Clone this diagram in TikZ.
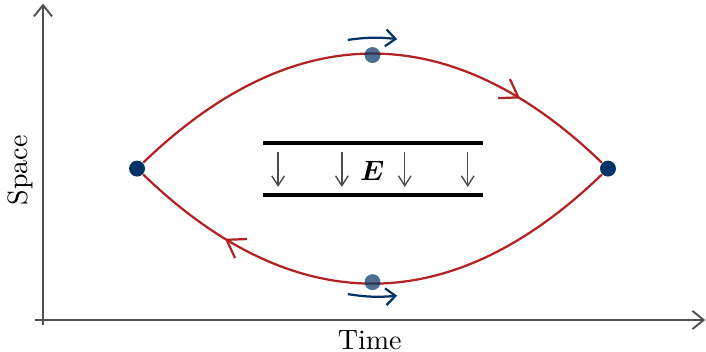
\documentclass[tikz,border=0pt]{standalone}
\usepackage{bm}
\usetikzlibrary{arrows.meta,decorations.markings}
\definecolor{pathred}{RGB}{178,34,34}
\definecolor{dotblue}{RGB}{0,51,102}
\definecolor{axisgray}{RGB}{80,80,80}
\begin{document}
\begin{tikzpicture}[
    axis/.style={axisgray,line width=.7pt,-{Straight Barb[length=4pt,width=6.5pt]}},
    worldline/.style={pathred,thick,postaction={decorate},
        decoration={markings,mark=at position .8 with
        {\arrow{Straight Barb[length=6pt,width=8pt]}}}},
    event/.style={circle,fill=dotblue,inner sep=0pt,minimum size=.2cm},
    midpt/.style={event,fill opacity=.7},
    spin/.style={dotblue,thick,-{Straight Barb[length=3.5pt,width=6pt]}},
    plate/.style={black,very thick},
    field/.style={black!70,line width=.5pt,-{Straight Barb[length=3.5pt,width=4.5pt]}}]
    \useasboundingbox (-.54,-.39) rectangle (8.32,4.016);
    \draw[axis] (0,-.06) -- (0,3.97);
    \draw[axis] (-.1,0) -- (8.31,0);
    \node[rotate=90] (space) at (-.29,1.88) {Space};
    \node (time) at (4.1,-.25) {Time};
    \node[event] (l) at (1.18,1.9) {};
    \node[event] (r) at (7.09,1.9) {};
    \draw[worldline] (l) .. controls (3.15,3.8) and (5.12,3.8) .. (r);
    \draw[worldline] (r) .. controls (5.12,0) and (3.15,0) .. (l);
    \node[midpt] (top) at (4.135,3.325) {};
    \node[midpt] (bot) at (4.135,.475) {};
    \draw[spin] ([shift={(-.31,.19)}]top.center) to[bend left=7]
        ([shift={(.31,.2)}]top.center);
    \draw[spin] ([shift={(-.31,-.15)}]bot.center) to[bend right=7]
        ([shift={(.31,-.17)}]bot.center);
    \draw[plate] (2.76,2.22) -- (5.52,2.22);
    \draw[plate] (2.76,1.57) -- (5.52,1.57);
    \foreach \x in {2.95,3.75,4.54,5.33}
        \draw[field] (\x,2.11) -- (\x,1.67);
    \node (E) at (4.13,1.87) {$\bm{E}$};
\end{tikzpicture}
\end{document}
